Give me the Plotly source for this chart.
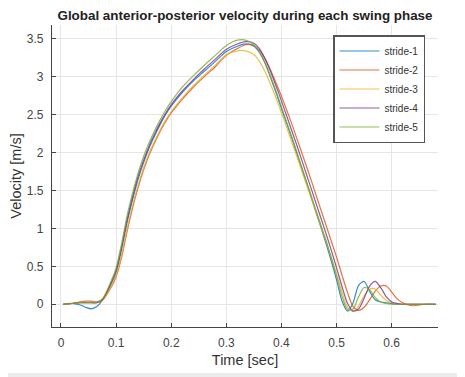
import plotly.graph_objects as go

time_s = [0.004, 0.02, 0.035, 0.045, 0.055, 0.065, 0.075, 0.09, 0.1, 0.11,
          0.12, 0.13, 0.14, 0.15, 0.16, 0.17, 0.18, 0.19, 0.2, 0.22,
          0.24, 0.26, 0.28, 0.3, 0.32, 0.335, 0.35, 0.36, 0.37, 0.38,
          0.39, 0.4, 0.41, 0.42, 0.43, 0.44, 0.45, 0.46, 0.47, 0.48,
          0.49, 0.5, 0.51, 0.52, 0.53, 0.54, 0.55, 0.56, 0.57, 0.58,
          0.59, 0.6, 0.61, 0.62, 0.63, 0.64, 0.66, 0.68]

stride_1 = [0, 0.01, -0.01, -0.04, -0.06, -0.03, 0.05, 0.25, 0.42, 0.72,
            1.08, 1.38, 1.65, 1.87, 2.06, 2.22, 2.37, 2.5, 2.61, 2.79,
            2.94, 3.07, 3.2, 3.33, 3.4, 3.43, 3.4, 3.32, 3.18, 2.99,
            2.79, 2.58, 2.37, 2.16, 1.94, 1.72, 1.5, 1.27, 1.05, 0.82,
            0.58, 0.32, 0.04, -0.09, 0.02, 0.25, 0.3, 0.17, 0.06, 0.03,
            0.02, 0.01, 0, 0, 0, 0, 0, 0]

stride_2 = [0, 0.01, 0.03, 0.04, 0.04, 0.03, 0.05, 0.21, 0.36, 0.62,
            0.96, 1.27, 1.54, 1.77, 1.97, 2.13, 2.28, 2.41, 2.52, 2.7,
            2.86, 3.0, 3.13, 3.28, 3.37, 3.42, 3.41, 3.35, 3.24, 3.09,
            2.92, 2.74, 2.55, 2.35, 2.14, 1.93, 1.72, 1.5, 1.28, 1.06,
            0.84, 0.62, 0.38, 0.15, -0.03, -0.08, -0.04, 0.06, 0.17, 0.24,
            0.24, 0.16, 0.07, 0.02, -0.01, -0.02, 0, 0]

stride_3 = [0, 0.01, 0.02, 0.02, 0.02, 0.02, 0.05, 0.22, 0.38, 0.65,
            1.0, 1.3, 1.57, 1.8, 1.99, 2.15, 2.3, 2.43, 2.54, 2.72,
            2.88, 3.02, 3.15, 3.29, 3.34, 3.34, 3.29, 3.2, 3.07, 2.9,
            2.72, 2.52, 2.32, 2.11, 1.9, 1.69, 1.48, 1.27, 1.06, 0.85,
            0.63, 0.4, 0.16, -0.04, -0.09, -0.02, 0.11, 0.2, 0.2, 0.12,
            0.05, 0.02, 0.01, 0, 0, 0, 0, 0]

stride_4 = [0, 0.01, 0.02, 0.02, 0.02, 0.02, 0.06, 0.27, 0.45, 0.76,
            1.12, 1.42, 1.69, 1.9, 2.09, 2.25, 2.39, 2.52, 2.63, 2.81,
            2.96, 3.1, 3.23, 3.36, 3.43, 3.46, 3.44, 3.37, 3.24, 3.07,
            2.88, 2.68, 2.47, 2.26, 2.05, 1.83, 1.61, 1.39, 1.17, 0.95,
            0.72, 0.48, 0.23, 0.01, -0.09, -0.06, 0.08, 0.24, 0.3, 0.22,
            0.1, 0.03, 0.01, 0, 0, 0, 0, 0]

stride_5 = [0, 0.01, 0.02, 0.02, 0.02, 0.03, 0.07, 0.29, 0.48, 0.8,
            1.17, 1.47, 1.73, 1.95, 2.13, 2.29, 2.43, 2.56, 2.67, 2.86,
            3.01, 3.15, 3.28, 3.41, 3.48, 3.48, 3.42, 3.33, 3.19, 3.01,
            2.81, 2.6, 2.39, 2.18, 1.96, 1.74, 1.52, 1.3, 1.08, 0.86,
            0.62, 0.37, 0.1, -0.07, -0.06, 0.1, 0.22, 0.19, 0.09, 0.03,
            0.01, 0, 0, 0, 0, 0, 0, 0]

series_names = ["stride-1", "stride-2", "stride-3", "stride-4", "stride-5"]
series_values = [stride_1, stride_2, stride_3, stride_4, stride_5]
colors = ["#0072BD", "#D95319", "#EDB120", "#7E2F8E", "#77AC30"]

x_ticks = [0, 0.1, 0.2, 0.3, 0.4, 0.5, 0.6]
x_tick_labels = ["0", "0.1", "0.2", "0.3", "0.4", "0.5", "0.6"]
y_ticks = [0, 0.5, 1, 1.5, 2, 2.5, 3, 3.5]
y_tick_labels = ["0", "0.5", "1", "1.5", "2", "2.5", "3", "3.5"]

fig = go.Figure()
for name, vals, col in zip(series_names, series_values, colors):
    fig.add_trace(go.Scatter(
        x=time_s, y=vals, mode="lines", name=name,
        line=dict(color=col, width=1.2, shape="spline", smoothing=0.8),
        opacity=0.8,
    ))

# page has an 8px body margin; figure occupies page area (8..465, 8..377)
OFF = 8
W, H = 465 - OFF, 377 - OFF
ml, mr, mt, mb = 52 - OFF, 27, 25 - OFF, 50
pw, ph = W - ml - mr, H - mt - mb

fig.update_layout(
    width=W, height=H,
    margin=dict(l=ml, r=mr, t=mt, b=mb, autoexpand=False),
    paper_bgcolor="white", plot_bgcolor="white",
    font=dict(family="Liberation Sans, Arial, sans-serif", color="#444"),
    title=dict(text="<b>Global anterior-posterior velocity during each swing phase</b>",
               x=0.5, xref="paper", xanchor="center", y=1 - (15 - OFF) / H, yanchor="middle",
               font=dict(size=13.4, color="#222")),
    showlegend=True,
    legend=dict(x=(333 - 52) / pw, y=1 - (35 - 25) / ph, xanchor="left", yanchor="top",
                bgcolor="white", bordercolor="#555", borderwidth=1.5,
                font=dict(size=10, color="#333"), tracegroupgap=0,
                itemwidth=40),
    xaxis=dict(range=[-0.0163, 0.684], tickvals=x_ticks, ticktext=x_tick_labels,
               showgrid=True, gridcolor="#e6e6e6", gridwidth=1, zeroline=False,
               showline=True, linecolor="#444", linewidth=1.2,
               ticks="inside", ticklen=4, tickcolor="#444", automargin=False,
               ticklabelstandoff=4,
               tickfont=dict(size=12, color="#444"),
               title=dict(text="Time [sec]", font=dict(size=14.5, color="#333"), standoff=6)),
    yaxis=dict(range=[-0.30, 3.68], tickvals=y_ticks, ticktext=y_tick_labels,
               showgrid=True, gridcolor="#e6e6e6", gridwidth=1, zeroline=False,
               showline=True, linecolor="#444", linewidth=1.2,
               ticks="inside", ticklen=4, tickcolor="#444", automargin=False,
               ticklabelstandoff=5,
               tickfont=dict(size=12, color="#444"),
               title=dict(text="Velocity [m/s]", font=dict(size=14.5, color="#333"), standoff=6)),
    shapes=[
        dict(type="rect", xref="paper", yref="paper",
             x0=-ml / pw, x1=(pw + mr) / pw,
             y0=-mb / ph, y1=(-mb + 4) / ph,
             fillcolor="#ececec", line=dict(width=0), layer="below"),
        dict(type="line", xref="paper", yref="paper",
             x0=(pw + mr - 1.5) / pw, x1=(pw + mr - 1.5) / pw,
             y0=(-mb + 4) / ph, y1=(ph + mt) / ph,
             line=dict(color="#d8d8d8", width=1), layer="below"),
    ],
)

fig.write_html("out.html")
